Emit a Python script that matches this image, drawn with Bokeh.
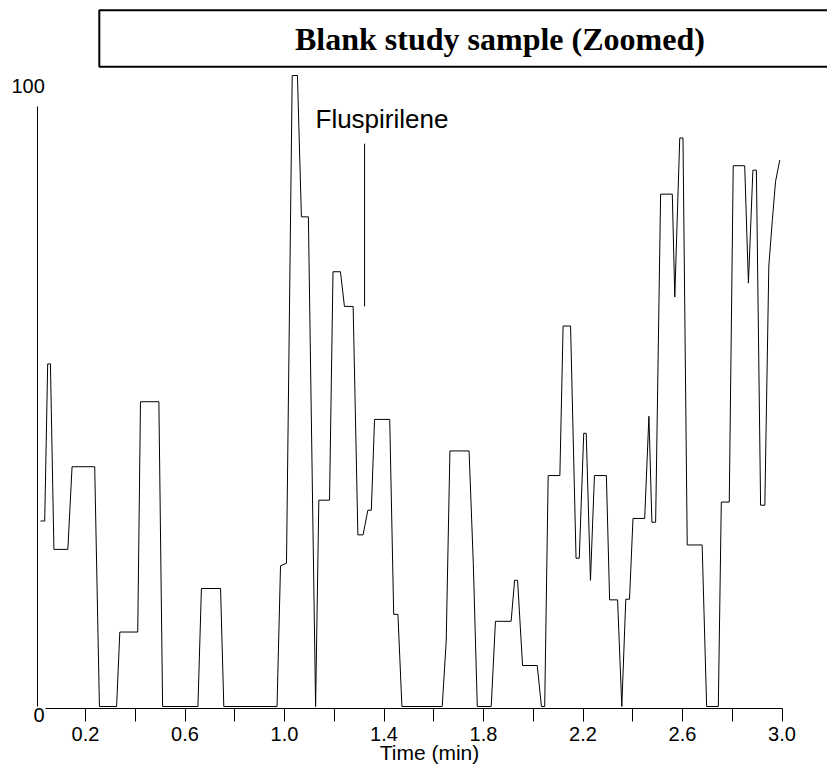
from bokeh.plotting import figure
from bokeh.models import Range1d, FixedTicker, NumeralTickFormatter, Label, LinearAxis
from bokeh.embed import file_html
from bokeh.resources import INLINE

# ---- data ----
time_min = [0.019, 0.036, 0.048, 0.059, 0.073, 0.129, 0.146, 0.237, 0.256, 0.325,
            0.338, 0.410, 0.421, 0.495, 0.510, 0.652, 0.666, 0.743, 0.756, 0.970,
            0.984, 1.008, 1.031, 1.052, 1.068, 1.096, 1.125, 1.138, 1.181, 1.195,
            1.225, 1.241, 1.276, 1.295, 1.316, 1.335, 1.349, 1.362, 1.423, 1.439,
            1.456, 1.472, 1.634, 1.650, 1.665, 1.742, 1.759, 1.775, 1.831, 1.848,
            1.911, 1.925, 1.937, 1.957, 2.016, 2.033, 2.046, 2.060, 2.107, 2.120,
            2.150, 2.172, 2.185, 2.203, 2.213, 2.230, 2.246, 2.294, 2.307, 2.339,
            2.356, 2.372, 2.387, 2.401, 2.448, 2.465, 2.477, 2.492, 2.512, 2.559,
            2.569, 2.589, 2.602, 2.619, 2.679, 2.697, 2.744, 2.756, 2.788, 2.804,
            2.850, 2.865, 2.883, 2.897, 2.914, 2.931, 2.947, 2.961, 2.974, 2.991]
intensity = [29.4, 29.4, 54.3, 54.3, 24.9, 24.9, 38.0, 38.0, 0.0, 0.0,
             11.8, 11.8, 48.3, 48.3, 0.0, 0.0, 18.7, 18.7, 0.0, 0.0,
             22.3, 22.7, 100.0, 100.0, 77.6, 77.6, 0.0, 32.7, 32.7, 68.9,
             68.9, 63.4, 63.4, 27.2, 27.2, 31.1, 31.1, 45.5, 45.5, 14.6,
             14.6, 0.0, 0.0, 10.3, 40.5, 40.5, 22.7, 0.0, 0.0, 13.5,
             13.5, 20.0, 20.0, 6.5, 6.5, 0.0, 0.0, 36.6, 36.6, 60.3,
             60.3, 23.5, 23.5, 43.3, 43.3, 20.0, 36.6, 36.6, 16.9, 16.9,
             0.0, 17.0, 17.0, 29.8, 29.8, 46.0, 29.2, 29.2, 81.2, 81.2,
             64.9, 90.1, 90.1, 25.6, 25.6, 0.0, 0.0, 32.4, 32.4, 85.7,
             85.7, 67.1, 85.0, 85.0, 31.9, 31.9, 69.8, 77.0, 83.2, 86.6]

tick_major = [0.2, 0.6, 1.0, 1.4, 1.8, 2.2, 2.6, 3.0]
tick_minor = [0.4, 0.8, 1.2, 1.6, 2.0, 2.4, 2.8]
title_text = "Blank study sample (Zoomed)"
peak_label = "Fluspirilene"
peak_time = 1.322
peak_mark_low, peak_mark_high = 63.4, 89.2
x_label = "Time (min)"
y_label_low, y_label_high = "0", "100"

# ---- layout constants ----
PX_PER_MIN = 248.75
PX_PER_UNIT = 6.31
W, H = 827, 765
ZERO_PX = 706.0          # pixel row of intensity 0
AXIS_Y = -2.0 / PX_PER_UNIT   # x-axis line two pixels below zero
x0 = -35.25 / PX_PER_MIN
x1 = x0 + W / PX_PER_MIN
y1 = ZERO_PX / PX_PER_UNIT
y0 = y1 - H / PX_PER_UNIT

SANS = "Liberation Sans"
SERIF = "Liberation Serif"

p = figure(width=W, height=H, x_range=Range1d(x0, x1), y_range=Range1d(y0, y1),
           output_backend="svg", toolbar_location=None,
           x_axis_location=None, y_axis_location=None,
           min_border_left=0, min_border_right=0, min_border_top=0,
           min_border_bottom=0, outline_line_color=None,
           background_fill_color="white", border_fill_color="white")
p.xgrid.visible = False
p.ygrid.visible = False

xaxis = LinearAxis(ticker=FixedTicker(ticks=tick_major, minor_ticks=tick_minor),
                   formatter=NumeralTickFormatter(format="0.0"),
                   bounds=(0.04, 3.0), fixed_location=AXIS_Y)
xaxis.axis_line_color = "black"
xaxis.axis_line_width = 1
xaxis.major_tick_out = 13
xaxis.major_tick_in = 0
xaxis.minor_tick_out = 13
xaxis.minor_tick_in = 0
xaxis.major_tick_line_color = "black"
xaxis.minor_tick_line_color = "black"
xaxis.major_label_text_font = SANS
xaxis.major_label_text_font_size = "20px"
xaxis.major_label_text_color = "black"
xaxis.major_label_standoff = 5
p.add_layout(xaxis, "below")

# vertical intensity axis line
p.segment(x0=[0.007], y0=[0], x1=[0.007], y1=[95.1], line_color="black", line_width=1)

# chromatogram trace
p.line(time_min, intensity, line_color="black", line_width=1)

# peak marker
p.segment(x0=[peak_time], y0=[peak_mark_low], x1=[peak_time], y1=[peak_mark_high],
          line_color="black", line_width=1)

# title box
p.quad(left=[0.2555], right=[3.4], bottom=[101.38], top=[110.35],
       fill_color=None, line_color="black", line_width=2)

p.add_layout(Label(x=1.866, y=105.82, text=title_text, text_font=SERIF,
                   text_font_style="bold", text_font_size="32px",
                   text_align="center", text_baseline="alphabetic", text_color="black"))
p.add_layout(Label(x=1.1246, y=93.04, text=peak_label, text_font=SANS,
                   text_font_size="26px", text_align="left",
                   text_baseline="alphabetic", text_color="black"))
p.add_layout(Label(x=-0.0975, y=98.26, text=y_label_high, text_font=SANS,
                   text_font_size="20px", text_align="left",
                   text_baseline="alphabetic", text_color="black"))
p.add_layout(Label(x=-0.009, y=-1.38, text=y_label_low, text_font=SANS,
                   text_font_size="20px", text_align="left",
                   text_baseline="alphabetic", text_color="black"))
p.add_layout(Label(x=1.583, y=-7.3, text=x_label, text_font=SANS,
                   text_font_size="21px", text_align="center",
                   text_baseline="alphabetic", text_color="black"))

open("out.html", "w").write(file_html(p, INLINE))
